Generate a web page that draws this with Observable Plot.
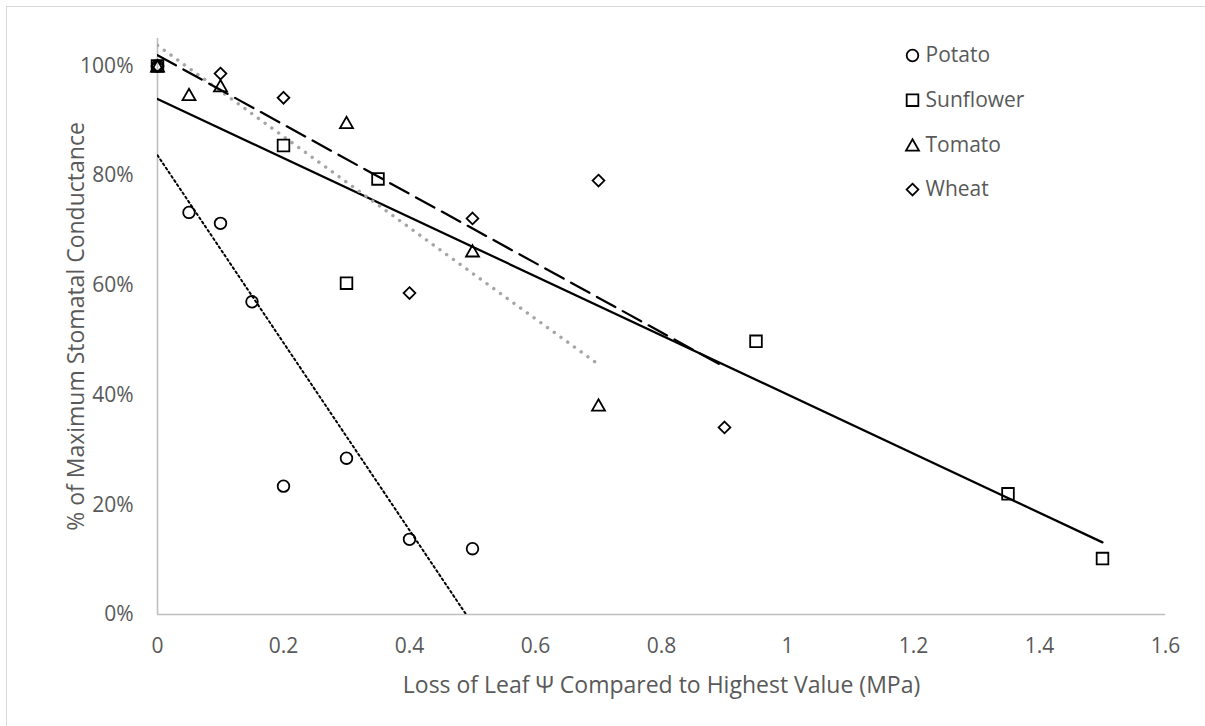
<!DOCTYPE html>
<html>
<head>
<meta charset="utf-8">
<script src="https://cdn.jsdelivr.net/npm/d3@7"></script>
<script src="https://cdn.jsdelivr.net/npm/@observablehq/plot@0.6"></script>
<style>
  html, body { margin: 0; padding: 0; background: #fff; }
  #chart { position: relative; width: 1205px; height: 726px; overflow: hidden; }
  #frame { position: absolute; left: 6px; top: 6px; width: 1400px; height: 1000px;
           border: 1.5px solid #d9d9d9; pointer-events: none; }
</style>
</head>
<body>
<div id="chart"><div id="frame"></div></div>
<script>
// Stomatal conductance (fraction of maximum) against loss of leaf water potential (MPa)
const potatoX    = [0, 0.05, 0.10, 0.15, 0.20, 0.30, 0.40, 0.50];
const potatoY    = [1.00, 0.733, 0.713, 0.570, 0.234, 0.285, 0.137, 0.120];
const sunflowerX = [0, 0.20, 0.30, 0.35, 0.95, 1.35, 1.50];
const sunflowerY = [1.00, 0.855, 0.604, 0.794, 0.498, 0.220, 0.102];
const tomatoX    = [0, 0.05, 0.10, 0.30, 0.50, 0.70];
const tomatoY    = [1.00, 0.948, 0.964, 0.897, 0.663, 0.382];
const wheatX     = [0, 0.10, 0.20, 0.40, 0.50, 0.70, 0.90];
const wheatY     = [1.00, 0.986, 0.942, 0.586, 0.722, 0.791, 0.341];

const seriesNames = ["Potato", "Sunflower", "Tomato", "Wheat"];
const xTicks = [0, 0.2, 0.4, 0.6, 0.8, 1.0, 1.2, 1.4, 1.6];
const yTicks = [0, 0.2, 0.4, 0.6, 0.8, 1.0];
const xTitle = "Loss of Leaf \u03A8 Compared to Highest Value (MPa)";
const yTitle = "% of Maximum Stomatal Conductance";

const rows = (xs, ys) => xs.map((x, i) => ({x, y: ys[i]}));

// Outlined marker shapes; size arrives as pi*r^2
const rad = size => Math.sqrt(size / Math.PI);
const circleSym = {draw(ctx, size) { const r = rad(size) * 0.97; ctx.moveTo(r, 0); ctx.arc(0, 0, r, 0, 2 * Math.PI); ctx.closePath(); }};
const squareSym = {draw(ctx, size) { const r = rad(size) * 0.97; ctx.moveTo(-r, -r); ctx.lineTo(r, -r); ctx.lineTo(r, r); ctx.lineTo(-r, r); ctx.closePath(); }};
const triangleSym = {draw(ctx, size) { const r = rad(size); ctx.moveTo(0, -0.95 * r); ctx.lineTo(1.08 * r, 0.95 * r); ctx.lineTo(-1.08 * r, 0.95 * r); ctx.closePath(); }};
const diamondSym = {draw(ctx, size) { const r = rad(size) * 0.98; ctx.moveTo(0, -r); ctx.lineTo(r, 0); ctx.lineTo(0, r); ctx.lineTo(-r, 0); ctx.closePath(); }};

const series = [
  {name: seriesNames[0], data: rows(potatoX, potatoY), symbol: circleSym,
   trend: {stroke: "#000", strokeWidth: 2, strokeDasharray: "2 3"}},
  {name: seriesNames[1], data: rows(sunflowerX, sunflowerY), symbol: squareSym,
   trend: {stroke: "#000", strokeWidth: 2.25}},
  {name: seriesNames[2], data: rows(tomatoX, tomatoY), symbol: triangleSym,
   trend: {stroke: "#a6a6a6", strokeWidth: 3.4, strokeDasharray: "0.1 8.2", strokeLinecap: "round"}},
  {name: seriesNames[3], data: rows(wheatX, wheatY), symbol: diamondSym,
   trend: {stroke: "#000", strokeWidth: 2.25, strokeDasharray: "21 8.5"}}
];

const markerStyle = {r: 6, stroke: "#000", strokeWidth: 1.8, fill: "none"};
const textColor = "#595959";

const marks = [
  Plot.ruleX([0], {stroke: "#bfbfbf", strokeWidth: 1.6}),
  Plot.ruleY([0], {stroke: "#bfbfbf", strokeWidth: 1.6}),
  Plot.axisX({ticks: xTicks, tickSize: 0, tickPadding: 24, label: null, fontSize: 21,
              tickFormat: d => String(+d.toFixed(1))}),
  Plot.axisY({ticks: yTicks, tickSize: 0, tickPadding: 24, label: null, fontSize: 21,
              tickFormat: d3.format(".0%")}),
  Plot.text([xTitle], {text: d => d, frameAnchor: "bottom", dy: 71, lineAnchor: "middle",
                       fontSize: 23, fill: textColor}),
  Plot.text([yTitle], {text: d => d, frameAnchor: "left", dx: -81, rotate: -90, textAnchor: "middle",
                       lineAnchor: "middle", fontSize: 23, fill: textColor})
];

// Least-squares trend line for each crop
for (const s of series) {
  marks.push(Plot.linearRegressionY(s.data, {x: "x", y: "y", ci: 0, clip: true, ...s.trend}));
}
for (const s of series) {
  marks.push(Plot.dot(s.data, {x: "x", y: "y", symbol: s.symbol, ...markerStyle}));
}

// Legend in the upper right of the plotting area
series.forEach((s, i) => {
  marks.push(Plot.dot([s.name], {frameAnchor: "top-left", dx: 755, dy: 17 + i * 44.7, symbol: s.symbol, ...markerStyle}));
  marks.push(Plot.text([s.name], {text: d => d, frameAnchor: "top-left", dx: 768, dy: 17 + i * 44.7,
                                  textAnchor: "start", lineAnchor: "middle", fontSize: 21, fill: textColor}));
});

const chart = Plot.plot({
  width: 1205,
  height: 726,
  marginLeft: 157,
  marginRight: 40,
  marginTop: 38,
  marginBottom: 112,
  x: {domain: [0, 1.6]},
  y: {domain: [0, 1.05]},
  style: {fontFamily: "'Open Sans', sans-serif", fontSize: "21px", color: textColor, background: "transparent"},
  marks
});

document.getElementById("chart").prepend(chart);
</script>
</body>
</html>
